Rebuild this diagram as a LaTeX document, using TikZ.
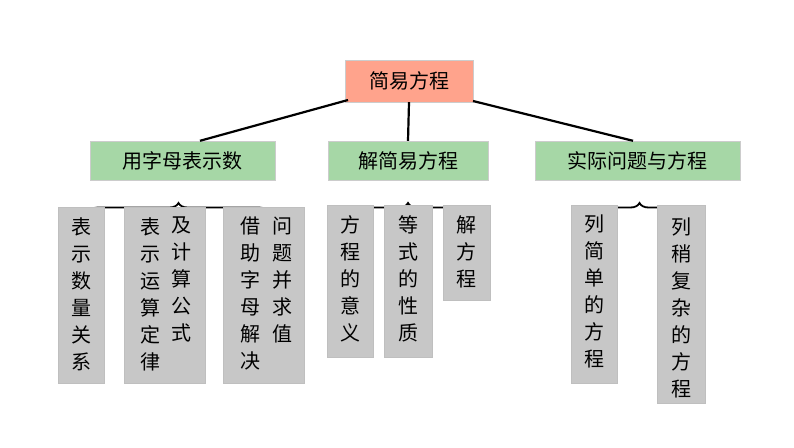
\documentclass[tikz,border=0pt]{standalone}
\usepackage{fontspec}
\setmainfont{Noto Sans CJK SC}
\usetikzlibrary{decorations.pathreplacing}
\begin{document}
\begin{tikzpicture}[x=1pt,y=-1pt,
  rootbox/.style={draw=white!80!black,fill=orange!40!red!45!white,font=\fontsize{20}{24}\selectfont,inner sep=0},
  midbox/.style={draw=white!80!black,fill=green!55!black!35!white,font=\fontsize{20}{24}\selectfont,inner sep=0},
  leafbox/.style={draw=white!75!black,fill=black!22,inner sep=0},
  col/.style={font=\fontsize{20}{27}\selectfont,align=center,anchor=north,inner sep=0},
  conn/.style={line width=2.2pt},
  brc/.style={line width=1.8pt,decorate,decoration={brace,amplitude=9pt}}]
\useasboundingbox (0,0) rectangle (794,447);
\node[rootbox,minimum width=128,minimum height=42] (root) at (409,81) {简易方程};
\node[midbox,minimum width=185,minimum height=39] (m1) at (182.5,160.5) {用字母表示数};
\node[midbox,minimum width=160,minimum height=39] (m2) at (408,160.5) {解简易方程};
\node[midbox,minimum width=205,minimum height=39] (m3) at (637.5,160.5) {实际问题与方程};
\coordinate (r1) at (348,100);
\coordinate (r3) at (473,101);
\draw[conn] (r1) -- (m1.north -| 200,0);
\draw[conn] (root.south) -- (m2.north);
\draw[conn] (r3) -- (m3.north -| 633,0);
\draw[brc] (89,212) -- (268,212);
\draw[brc] (328,212) -- (488,212);
\draw[brc] (597,212) -- (682,212);
% leaves
\node[leafbox,minimum width=46,minimum height=176] (a1) at (81,295) {};
\node[leafbox,minimum width=81,minimum height=176] (a2) at (164.5,295) {};
\node[leafbox,minimum width=81,minimum height=176] (a3) at (263.5,295) {};
\node[leafbox,minimum width=46,minimum height=152] (b1) at (350,281) {};
\node[leafbox,minimum width=48,minimum height=152] (b2) at (408,281) {};
\node[leafbox,minimum width=47,minimum height=95] (b3) at (466.5,252.5) {};
\node[leafbox,minimum width=46,minimum height=178] (c1) at (594,294) {};
\node[leafbox,minimum width=48,minimum height=198] (c2) at (681,304) {};
\node[col] (ta1) at (81,217) {表\\示\\数\\量\\关\\系};
\node[col] (ta2a) at (150,217) {表\\示\\运\\算\\定\\律};
\node[col] (ta2b) at (181,217) {及\\计\\算\\公\\式};
\node[col] (ta3a) at (250,217) {借\\助\\字\\母\\解\\决};
\node[col] (ta3b) at (282,217) {问\\题\\并\\求\\值};
\node[col] (tb1) at (350,215) {方\\程\\的\\意\\义};
\node[col] (tb2) at (408,215) {等\\式\\的\\性\\质};
\node[col] (tb3) at (466.5,215) {解\\方\\程};
\node[col] (tc1) at (594,215) {列\\简\\单\\的\\方\\程};
\node[col] (tc2) at (681,218) {列\\稍\\复\\杂\\的\\方\\程};
\end{tikzpicture}
\end{document}
